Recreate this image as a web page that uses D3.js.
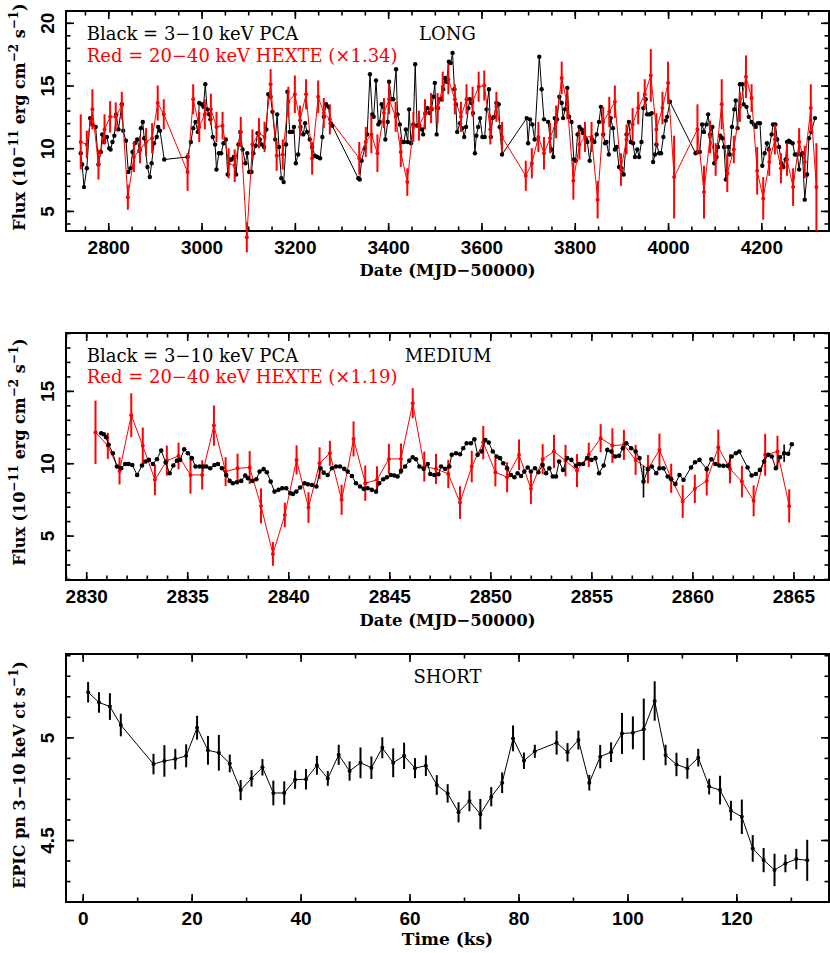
<!DOCTYPE html>
<html>
<head>
<meta charset="utf-8">
<script src="https://cdnjs.cloudflare.com/ajax/libs/d3/7.8.5/d3.min.js"></script>
<style>
body { margin: 0; background: #fff; }
</style>
</head>
<body>
<div id="chart"></div>
<script>
// ---- data ----
// LONG: PCA 3-10 keV [date, flux]
var longPca = [[2741,9.6],[2744,8.7],[2748,6.9],[2754,8.4],[2761,12.4],[2766,11.9],[2773,11.7],[2779,8.7],[2784,9.7],[2787,11.1],[2791,10.5],[2797,10.9],[2802,10.0],[2805,9.9],[2809,10.5],[2813,11.0],[2817,12.7],[2822,11.5],[2829,13.5],[2832,11.4],[2838,10.6],[2843,8.1],[2848,8.4],[2852,9.7],[2857,10.4],[2862,10.7],[2867,9.8],[2870,11.6],[2874,12.1],[2877,10.8],[2884,8.5],[2889,7.7],[2893,8.8],[2898,10.4],[2904,10.9],[2907,11.7],[2911,11.4],[2920,9.1],[2970,9.3],[2977,10.5],[2982,11.6],[2987,12.1],[2992,11.3],[2995,13.6],[3000,13.5],[3004,13.3],[3008,15.1],[3012,13.1],[3016,12.7],[3019,12.3],[3024,10.9],[3029,10.3],[3032,8.3],[3037,9.6],[3042,9.6],[3047,10.4],[3052,10.7],[3056,7.9],[3061,9.1],[3064,9.1],[3069,9.3],[3074,7.9],[3079,10.3],[3083,11.3],[3088,9.9],[3094,8.8],[3098,9.6],[3102,8.1],[3107,8.1],[3111,9.6],[3116,10.2],[3120,11.2],[3125,10.7],[3129,10.3],[3134,10.1],[3139,11.5],[3143,14.3],[3148,14.1],[3152,12.9],[3158,10.7],[3162,12.7],[3166,10.1],[3171,7.6],[3176,7.3],[3181,10.3],[3184,14.5],[3189,11.3],[3194,11.3],[3198,11.7],[3202,8.8],[3207,9.5],[3212,11.7],[3218,11.1],[3222,12.0],[3226,11.3],[3232,10.7],[3237,10.1],[3243,9.4],[3248,9.3],[3254,9.2],[3259,10.9],[3262,12.5],[3267,13.5],[3272,13.3],[3277,12.0],[3280,11.8],[3336,7.6],[3339,7.5],[3343,9.0],[3350,10.0],[3355,11.1],[3361,15.9],[3366,12.7],[3369,12.5],[3374,15.4],[3379,11.9],[3382,12.1],[3386,13.5],[3389,13.3],[3394,10.7],[3399,12.1],[3402,15.3],[3407,13.9],[3411,13.9],[3417,16.3],[3420,12.7],[3425,11.9],[3430,10.5],[3434,10.5],[3438,11.5],[3442,10.5],[3445,13.1],[3449,10.4],[3454,11.9],[3458,16.7],[3462,11.8],[3467,11.8],[3472,11.5],[3475,11.1],[3480,12.8],[3484,13.2],[3489,12.8],[3493,13.1],[3497,14.1],[3500,15.2],[3504,11.1],[3507,13.2],[3511,13.9],[3514,13.9],[3518,14.7],[3522,15.6],[3525,15.3],[3530,16.9],[3534,16.8],[3538,17.6],[3542,14.7],[3545,13.5],[3548,11.3],[3554,12.0],[3559,11.6],[3563,10.9],[3567,11.7],[3572,13.2],[3575,13.9],[3579,13.6],[3582,12.8],[3586,9.6],[3589,11.0],[3593,11.7],[3597,12.4],[3602,10.9],[3607,10.9],[3611,13.1],[3616,14.7],[3620,10.9],[3624,12.4],[3627,12.5],[3632,13.6],[3637,13.5],[3639,11.7],[3644,9.5],[3697,12.4],[3700,10.4],[3704,12.3],[3709,11.9],[3714,10.7],[3724,17.3],[3729,14.7],[3734,12.3],[3743,12.1],[3750,9.9],[3754,9.3],[3757,12.4],[3762,12.3],[3767,14.1],[3772,13.6],[3775,12.4],[3779,13.1],[3784,14.8],[3788,12.5],[3793,12.1],[3798,9.1],[3802,9.0],[3806,11.1],[3810,11.7],[3815,11.5],[3818,11.2],[3824,10.7],[3827,10.5],[3832,9.0],[3837,10.7],[3842,10.5],[3847,11.1],[3852,12.1],[3856,13.3],[3861,11.1],[3865,10.4],[3868,10.5],[3873,9.5],[3877,12.4],[3882,11.6],[3886,9.9],[3890,10.1],[3895,8.5],[3900,8.4],[3905,7.9],[3911,11.1],[3916,12.1],[3920,10.5],[3925,10.4],[3929,9.3],[3934,9.9],[3938,9.3],[3943,10.5],[3947,13.2],[3952,13.9],[3955,12.7],[3960,12.7],[3965,12.8],[3968,8.9],[3972,9.5],[3975,10.3],[3981,9.6],[3985,9.6],[3990,10.9],[3995,12.2],[3998,12.5],[4004,13.7],[4059,9.6],[4063,9.7],[4068,9.7],[4073,11.9],[4077,11.3],[4082,11.9],[4086,12.7],[4090,11.1],[4095,11.7],[4099,8.8],[4104,9.3],[4107,10.1],[4112,11.0],[4116,10.8],[4120,10.1],[4124,7.5],[4129,10.1],[4132,9.5],[4137,11.7],[4142,13.1],[4145,13.8],[4149,11.6],[4154,15.1],[4159,15.1],[4162,13.5],[4168,13.3],[4173,12.5],[4179,12.1],[4184,11.9],[4188,11.7],[4193,12.0],[4197,12.0],[4202,8.6],[4207,9.6],[4212,10.4],[4216,9.9],[4222,11.1],[4225,11.9],[4230,11.9],[4234,10.7],[4238,10.1],[4243,8.8],[4247,8.5],[4252,9.1],[4255,10.5],[4259,10.6],[4262,10.5],[4267,10.4],[4272,9.5],[4277,9.5],[4281,8.3],[4285,9.5],[4288,9.6],[4293,5.9],[4298,7.9],[4302,10.8],[4307,11.3],[4315,12.4]];

// LONG: HEXTE 20-40 keV (x1.34) [date, flux, err]
var longHexte = [[2741,10.5,2.2],[2754,10.3,1.1],[2766,13.1,1.6],[2779,8.7,1.2],[2792,11.5,1.2],[2804,12.5,1.25],[2816,12.5,1.15],[2829,13.4,1.1],[2842,6.1,1.0],[2855,9.3,1.2],[2868,9.9,1.1],[2881,10.5,1.1],[2894,10.8,1.2],[2906,13.6,1.4],[2919,12.7,1.2],[2970,8.1,1.5],[2982,13.9,1.2],[2995,11.7,1.2],[3007,12.7,1.2],[3020,13.1,1.25],[3032,11.7,1.2],[3045,11.8,1.1],[3058,8.8,1.2],[3071,8.6,1.3],[3084,11.3,1.2],[3097,2.9,1.2],[3109,10.3,1.2],[3123,11.2,1.2],[3135,10.9,1.2],[3148,15.1,1.2],[3161,9.4,1.2],[3174,9.5,1.2],[3186,13.7,1.2],[3200,14.3,1.5],[3211,12.2,1.2],[3224,14.3,1.2],[3237,9.2,1.3],[3250,14.1,1.3],[3262,12.8,1.2],[3275,12.3,1.2],[3338,9.2,1.3],[3352,10.5,1.2],[3364,11.1,1.5],[3377,9.6,1.5],[3391,12.8,1.2],[3402,13.9,1.2],[3416,12.5,1.2],[3427,9.7,1.2],[3441,7.3,1.1],[3454,11.7,1.2],[3466,11.8,1.2],[3479,12.7,1.2],[3492,13.2,1.2],[3506,13.2,1.2],[3517,14.9,1.2],[3529,15.5,1.2],[3543,13.9,1.2],[3556,12.5,1.2],[3568,13.9,1.2],[3581,13.7,1.2],[3594,14.9,1.2],[3606,15.0,1.2],[3619,11.5,1.2],[3632,13.3,1.2],[3644,10.9,1.2],[3695,7.8,1.2],[3708,8.8,1.2],[3722,10.9,1.2],[3734,9.6,1.3],[3747,10.8,1.2],[3760,12.1,1.3],[3772,15.6,1.3],[3784,13.5,1.2],[3797,7.4,1.5],[3810,10.3,1.2],[3822,10.9,1.2],[3836,10.9,1.2],[3849,5.9,1.5],[3861,12.1,1.2],[3874,12.9,1.2],[3886,13.7,1.3],[3899,8.3,1.3],[3911,10.7,1.2],[3924,11.9,1.3],[3936,13.2,1.3],[3950,14.3,1.2],[3963,15.8,2.1],[3975,11.5,1.3],[3988,13.2,1.3],[4000,15.2,1.7],[4013,7.7,3.3],[4063,11.5,2.0],[4077,6.5,2.1],[4090,10.9,1.3],[4102,9.1,1.3],[4115,13.5,2.0],[4127,8.0,1.5],[4141,9.9,1.1],[4154,13.3,1.2],[4167,15.7,1.7],[4179,14.0,1.1],[4191,8.2,1.9],[4204,6.0,1.7],[4217,8.9,1.1],[4229,10.7,1.2],[4242,8.4,1.2],[4255,9.1,1.3],[4268,6.9,1.5],[4281,10.5,1.1],[4293,8.9,1.3],[4306,13.2,1.9],[4318,6.9,3.5]];

// MEDIUM: PCA [date, flux]
var medPca = [[2830.74,12.07],[2830.87,12.0],[2830.99,11.8],[2831.11,11.27],[2831.32,10.69],[2831.52,9.77],[2831.73,9.65],[2831.93,9.95],[2832.1,9.95],[2832.28,9.88],[2832.52,9.19],[2832.76,9.84],[2832.94,10.12],[2833.1,10.23],[2833.3,9.95],[2833.5,10.28],[2833.71,10.88],[2833.93,10.05],[2834.13,9.31],[2834.31,9.84],[2834.49,10.18],[2834.65,10.23],[2834.85,10.97],[2835.03,10.69],[2835.23,10.35],[2835.41,9.77],[2835.61,9.77],[2835.78,9.77],[2835.94,9.77],[2836.14,9.65],[2836.35,9.88],[2836.52,9.95],[2836.72,9.65],[2836.93,9.19],[2837.1,8.78],[2837.26,8.62],[2837.46,8.69],[2837.67,8.78],[2837.87,9.15],[2838.0,8.96],[2838.22,8.78],[2838.42,8.89],[2838.58,9.42],[2838.78,9.59],[2838.94,9.38],[2839.13,8.73],[2839.32,8.04],[2839.52,8.16],[2839.7,8.27],[2839.9,8.27],[2840.1,7.93],[2840.23,7.88],[2840.4,8.04],[2840.59,8.32],[2840.81,8.62],[2840.97,8.55],[2841.17,8.5],[2841.39,8.39],[2841.6,9.65],[2841.75,9.35],[2841.95,9.19],[2842.16,9.65],[2842.36,9.77],[2842.56,9.77],[2842.77,9.61],[2842.94,9.42],[2843.15,9.12],[2843.35,8.62],[2843.55,8.39],[2843.73,8.23],[2843.93,8.27],[2844.13,8.16],[2844.34,8.04],[2844.5,8.62],[2844.7,8.89],[2844.88,9.03],[2845.08,9.19],[2845.25,9.15],[2845.41,9.08],[2845.58,9.47],[2845.78,9.77],[2845.99,10.18],[2846.16,10.41],[2846.32,10.28],[2846.49,9.77],[2846.7,9.61],[2846.9,9.95],[2847.03,9.26],[2847.23,9.19],[2847.43,9.24],[2847.56,9.77],[2847.76,9.61],[2847.97,9.77],[2848.09,10.58],[2848.3,10.69],[2848.5,10.62],[2848.66,11.04],[2848.83,11.38],[2849.04,11.38],[2849.21,11.66],[2849.37,10.58],[2849.57,10.81],[2849.75,11.61],[2849.92,11.43],[2850.12,10.81],[2850.31,10.46],[2850.48,10.35],[2850.64,10.0],[2850.83,9.65],[2851.02,9.19],[2851.19,9.03],[2851.35,9.31],[2851.52,9.12],[2851.68,9.42],[2851.85,9.7],[2852.01,9.42],[2852.21,9.65],[2852.38,9.38],[2852.59,9.88],[2852.76,9.31],[2852.92,9.65],[2853.09,9.08],[2853.25,9.08],[2853.4,10.12],[2853.6,9.54],[2853.8,10.35],[2854.01,10.23],[2854.23,9.82],[2854.39,9.95],[2854.59,9.95],[2854.79,10.35],[2855.0,10.23],[2855.2,10.35],[2855.38,9.31],[2855.61,9.84],[2855.79,10.92],[2855.99,10.81],[2856.18,10.46],[2856.37,10.51],[2856.56,11.04],[2856.73,11.38],[2856.97,11.04],[2857.19,10.81],[2857.38,10.35],[2857.58,8.73],[2857.8,9.59],[2857.99,9.77],[2858.21,9.31],[2858.37,9.65],[2858.57,9.65],[2858.78,9.08],[2858.95,8.89],[2859.16,8.57],[2859.36,9.19],[2859.56,8.85],[2859.93,9.7],[2860.13,10.07],[2860.35,10.23],[2860.71,9.59],[2860.94,10.28],[2861.14,9.95],[2861.33,9.84],[2861.53,9.82],[2861.74,9.82],[2861.94,10.46],[2862.15,10.69],[2862.32,10.81],[2862.73,9.7],[2862.93,9.15],[2863.14,9.26],[2863.34,9.54],[2863.55,10.12],[2863.75,10.58],[2863.93,10.46],[2864.13,9.65],[2864.33,10.41],[2864.54,10.69],[2864.74,10.65],[2864.92,11.31]];
// the two PCA points with visible error bars [date, err]
var medPcaBars = [[2857.58,1.1],[2864.54,0.6]];

// MEDIUM: HEXTE (x1.19) [date, flux, err]
var medHexte = [[2830.46,12.14,2.19],[2831.07,11.2,0.9],[2831.65,9.47,0.94],[2832.23,13.32,1.52],[2832.8,11.2,1.27],[2833.4,8.85,1.06],[2833.99,10.18,1.04],[2834.57,10.5,0.92],[2835.16,9.19,1.29],[2835.74,9.19,1.01],[2836.32,12.6,1.39],[2836.9,9.42,1.0],[2837.49,9.65,1.01],[2838.09,9.7,1.14],[2838.65,7.05,1.21],[2839.24,3.73,0.82],[2839.83,6.43,0.85],[2840.41,10.23,1.01],[2841.0,6.94,1.06],[2841.55,10.0,1.1],[2842.06,10.69,0.86],[2842.64,7.47,1.04],[2843.23,11.68,1.21],[2843.81,8.62,1.22],[2844.39,8.85,0.94],[2844.98,10.3,1.04],[2845.58,10.3,1.06],[2846.16,14.15,1.04],[2846.73,9.77,1.04],[2847.31,9.61,1.04],[2847.92,9.26,0.98],[2848.5,7.28,1.13],[2849.08,9.77,1.09],[2849.65,11.43,1.15],[2850.25,9.38,0.98],[2850.83,9.03,1.04],[2851.42,10.58,1.06],[2852.01,8.23,1.04],[2852.59,10.28,1.04],[2853.15,10.81,1.15],[2853.72,10.18,1.09],[2854.29,9.49,1.14],[2854.87,10.58,0.84],[2855.46,11.73,0.97],[2856.04,11.22,1.19],[2856.61,11.27,1.04],[2857.19,10.23,1.04],[2857.8,9.59,0.98],[2858.37,10.92,1.13],[2858.95,8.96,1.01],[2859.52,7.35,1.13],[2860.12,8.23,0.98],[2860.71,8.78,1.01],[2861.28,11.11,1.21],[2861.86,9.61,1.0],[2862.45,8.73,1.09],[2863.03,7.4,1.07],[2863.6,10.58,1.45],[2864.21,10.81,1.09],[2864.79,7.05,1.15]];

// SHORT: EPIC pn [time ks, rate, err]
var shortPn = [[1,5.22,0.05],[3,5.17,0.05],[5,5.15,0.065],[7,5.06,0.055],[13,4.87,0.05],[15,4.885,0.077],[17,4.894,0.05],[19,4.91,0.056],[21,5.047,0.058],[23,4.937,0.07],[25,4.925,0.087],[27,4.873,0.043],[29,4.743,0.049],[31,4.80,0.04],[33,4.854,0.04],[35,4.729,0.06],[37,4.729,0.057],[39,4.794,0.045],[41,4.796,0.05],[43,4.864,0.046],[45,4.80,0.036],[47,4.915,0.049],[49,4.836,0.047],[51,4.876,0.075],[53,4.852,0.055],[55,4.949,0.051],[57,4.876,0.07],[59,4.91,0.064],[61,4.85,0.049],[63,4.862,0.05],[65,4.768,0.048],[67,4.727,0.045],[69,4.635,0.049],[71,4.69,0.05],[73,4.626,0.074],[75,4.711,0.047],[77,4.779,0.05],[79,4.995,0.063],[81,4.886,0.04],[83,4.932,0.032],[87,4.974,0.058],[89,4.927,0.045],[91,4.987,0.046],[93,4.779,0.038],[95,4.906,0.057],[97,4.928,0.048],[99,5.019,0.1],[101,5.022,0.08],[103,5.039,0.15],[105,5.177,0.096],[107,4.914,0.05],[109,4.868,0.057],[111,4.849,0.051],[113,4.901,0.043],[115,4.76,0.038],[117,4.743,0.07],[119,4.643,0.048],[121,4.613,0.084],[123,4.459,0.065],[125,4.402,0.059],[127,4.354,0.079],[129,4.386,0.043],[131,4.407,0.05],[133,4.401,0.1]];

// tick labels
var longXTicks = [2800, 3000, 3200, 3400, 3600, 3800, 4000, 4200];
var longYTicks = [5, 10, 15, 20];
var medXTicks = [2830, 2835, 2840, 2845, 2850, 2855, 2860, 2865];
var medYTicks = [5, 10, 15];
var shortXTicks = [0, 20, 40, 60, 80, 100, 120];
var shortYTicks = [4.5, 5];

// ---- layout ----
var width = 830, height = 953;
var left = 66, right = 829;
var serif = "'DejaVu Serif', serif";
var sans = "'Liberation Sans', Arial, sans-serif";

var svg = d3.select("#chart").append("svg")
  .attr("width", width)
  .attr("height", height)
  .style("background", "#fff");

function panel(top, bottom, xDom, yDom) {
  return {
    top: top, bottom: bottom,
    x: d3.scaleLinear().domain(xDom).range([left, right]),
    y: d3.scaleLinear().domain(yDom).range([bottom, top])
  };
}

var pLong = panel(11, 231, [2709.4, 4345], [3.4, 20.94]);
var pMed = panel(333, 580, [2829.0, 2866.76], [1.93, 19.0]);
var pShort = panel(654, 902, [-3.06, 137], [4.198, 5.406]);

function axes(p, xMaj, xMin, yMaj, yMin) {
  var g = svg.append("g");
  var fmt = function(d) { return d; };
  var xb = g.append("g").attr("transform", "translate(0," + p.bottom + ")");
  xb.call(d3.axisBottom(p.x).tickValues(xMaj).tickSize(-8).tickPadding(9.5).tickFormat(fmt));
  xb.append("g").call(d3.axisBottom(p.x).tickValues(xMin).tickSize(-4.5).tickFormat(""));
  var xt = g.append("g").attr("transform", "translate(0," + p.top + ")");
  xt.call(d3.axisTop(p.x).tickValues(xMaj).tickSize(-8).tickFormat(""));
  xt.append("g").call(d3.axisTop(p.x).tickValues(xMin).tickSize(-4.5).tickFormat(""));
  var yl = g.append("g").attr("transform", "translate(" + left + ",0)");
  yl.call(d3.axisLeft(p.y).tickValues(yMaj).tickSize(-8).tickFormat(fmt));
  yl.append("g").call(d3.axisLeft(p.y).tickValues(yMin).tickSize(-4.5).tickFormat(""));
  var yr = g.append("g").attr("transform", "translate(" + right + ",0)");
  yr.call(d3.axisRight(p.y).tickValues(yMaj).tickSize(-8).tickFormat(""));
  yr.append("g").call(d3.axisRight(p.y).tickValues(yMin).tickSize(-4.5).tickFormat(""));

  g.selectAll(".domain").remove();
  g.selectAll(".tick line").attr("stroke", "#000").attr("stroke-width", 1.6);
  g.selectAll("text")
    .style("font-family", sans)
    .style("font-weight", "bold")
    .style("font-size", "19px")
    .attr("fill", "#000");
  // vertical tick labels on the y axis
  yl.selectAll(".tick text")
    .attr("x", null).attr("dy", null)
    .attr("text-anchor", "middle")
    .attr("transform", "translate(-12.5,0) rotate(-90)");

  svg.append("rect")
    .attr("x", left).attr("y", p.top)
    .attr("width", right - left).attr("height", p.bottom - p.top)
    .attr("fill", "none").attr("stroke", "#000").attr("stroke-width", 2);
}

axes(pLong, longXTicks, d3.range(2750, 4345, 50), longYTicks, d3.range(4, 21, 1));
axes(pMed, medXTicks, d3.range(2829, 2867, 1), medYTicks, d3.range(2, 20, 1));
axes(pShort, shortXTicks, d3.range(0, 137, 10), shortYTicks, d3.range(4.2, 5.41, 0.1));

function series(p, data, color, r, lw, ew) {
  var g = svg.append("g");
  var line = d3.line().x(function(d) { return p.x(d[0]); }).y(function(d) { return p.y(d[1]); });
  g.append("path").datum(data)
    .attr("d", line).attr("fill", "none")
    .attr("stroke", color).attr("stroke-width", lw);
  g.selectAll("line.err")
    .data(data.filter(function(d) { return d.length > 2; }))
    .enter().append("line")
    .attr("class", "err")
    .attr("x1", function(d) { return p.x(d[0]); })
    .attr("x2", function(d) { return p.x(d[0]); })
    .attr("y1", function(d) { return p.y(d[1] - d[2]); })
    .attr("y2", function(d) { return p.y(d[1] + d[2]); })
    .attr("stroke", color).attr("stroke-width", ew);
  g.selectAll("circle")
    .data(data).enter().append("circle")
    .attr("cx", function(d) { return p.x(d[0]); })
    .attr("cy", function(d) { return p.y(d[1]); })
    .attr("r", r).attr("fill", color);
}

series(pLong, longPca, "#000", 2.2, 1, 1.6);
series(pLong, longHexte, "#ff0000", 2, 1, 2);

// medium: PCA bars that stick out of the markers
var medBarRows = medPcaBars.map(function(b) {
  var pt = medPca.find(function(d) { return d[0] === b[0]; });
  return [b[0], pt[1], b[1]];
});
series(pMed, medHexte, "#ff0000", 2, 1, 2);
series(pMed, medPca, "#000", 2.3, 1, 1.6);
svg.append("g").selectAll("line")
  .data(medBarRows).enter().append("line")
  .attr("x1", function(d) { return pMed.x(d[0]); })
  .attr("x2", function(d) { return pMed.x(d[0]); })
  .attr("y1", function(d) { return pMed.y(d[1] - d[2]); })
  .attr("y2", function(d) { return pMed.y(d[1] + d[2]); })
  .attr("stroke", "#000").attr("stroke-width", 1.6);

series(pShort, shortPn, "#000", 2, 1, 2);

// ---- texts ----
function label(x, y, str, opts) {
  var t = svg.append("text")
    .attr("x", x).attr("y", y)
    .attr("text-anchor", opts.anchor || "start")
    .style("font-family", serif)
    .style("font-size", (opts.size || 18) + "px")
    .style("font-weight", opts.bold ? "bold" : "normal")
    .attr("fill", opts.color || "#000")
    .text(str);
  return t;
}

label(86.7, 39.5, "Black = 3\u221210 keV PCA", {});
label(86.7, 61.7, "Red = 20\u221240 keV HEXTE (\u00d71.34)", {color: "#ff0000"});
label(447.5, 40, "LONG", {anchor: "middle"});

label(86.7, 362, "Black = 3\u221210 keV PCA", {});
label(86.7, 383, "Red = 20\u221240 keV HEXTE (\u00d71.19)", {color: "#ff0000"});
label(448, 362, "MEDIUM", {anchor: "middle"});

label(447.5, 683, "SHORT", {anchor: "middle"});

label(447.5, 276, "Date (MJD\u221250000)", {anchor: "middle", bold: true, size: 16.5});
label(447.5, 626, "Date (MJD\u221250000)", {anchor: "middle", bold: true, size: 16.5});
label(447.5, 945, "Time (ks)", {anchor: "middle", bold: true, size: 17});

// rotated y titles with superscripts; parts are [text, isSuper]
function yTitle(cy, parts) {
  var t = svg.append("text")
    .attr("transform", "translate(25," + cy + ") rotate(-90)")
    .attr("text-anchor", "middle")
    .style("font-family", serif)
    .style("font-weight", "bold")
    .style("font-size", "16px")
    .attr("fill", "#000");
  var up = false;
  parts.forEach(function(p) {
    var s = t.append("tspan").text(p[0]);
    if (p[1] && !up) { s.attr("dy", -7).style("font-size", "12px"); up = true; }
    else if (p[1]) { s.style("font-size", "12px"); }
    else if (up) { s.attr("dy", 7); up = false; }
  });
}

var fluxTitle = [["Flux (10", false], ["\u221211", true], [" erg cm", false], ["\u22122", true], [" s", false], ["\u22121", true], [")", false]];
yTitle(117, fluxTitle);
yTitle(452, fluxTitle);
yTitle(775, [["EPIC pn 3\u221210 keV ct s", false], ["\u22121", true], [")", false]]);
</script>
</body>
</html>
